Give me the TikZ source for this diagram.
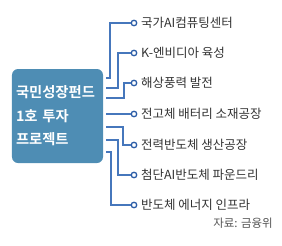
\documentclass[tikz,border=0pt]{standalone}
\usepackage{fontspec}
\setmainfont{Noto Sans CJK KR}[BoldFont={Noto Sans CJK KR Bold}]
\usepackage{tikz}
\usetikzlibrary{positioning,calc}
\definecolor{fundBlue}{HTML}{4E8DB4}
\definecolor{lineBlue}{HTML}{4677BC}
\definecolor{dotBlue}{HTML}{2B5CA6}
\definecolor{labelGray}{HTML}{333333}
\definecolor{srcGray}{HTML}{555555}

\begin{document}
\begin{tikzpicture}[x=1bp,y=-1bp,
  fundbox/.style={fill=fundBlue,rounded corners=6bp,minimum width=91bp,minimum height=94bp,
    inner sep=4bp,text=white,font=\fontsize{14.3bp}{23.5bp}\selectfont\bfseries,align=left,text width=83bp},
  link/.style={draw=lineBlue,line width=2.5bp},
  dot/.style={circle,draw=dotBlue,fill=white,line width=1.3bp,inner sep=0pt,minimum size=5.5bp},
  lab/.style={anchor=west,text=labelGray,font=\fontsize{12.5bp}{14bp}\selectfont,inner sep=0pt}]
\useasboundingbox (0,0) rectangle (282,246);
% fund box on the left
\node[fundbox] (fund) at (57.5,116) {국민성장펀드\\1호 투자\\프로젝트};
% project list with end dots
\foreach \i/\y/\txt in {1/23/국가AI컴퓨팅센터, 2/53/K-엔비디아 육성, 3/83/해상풍력 발전,
  4/114/전고체 배터리 소재공장, 5/145/전력반도체 생산공장, 6/175/첨단AI반도체 파운드리,
  7/205/반도체 에너지 인프라}{
  \node[dot] (p\i) at (134,\y) {};
  \node[lab,right=3.5bp of p\i] (t\i) {\txt};
}
% connector start points next to the box
\coordinate (s1) at (106,78);
\coordinate (s2) at (106,88);
\coordinate (s3) at (106,98);
\coordinate (s4) at (106,114);
\coordinate (s5) at (106,127);
\coordinate (s6) at (106,140);
\coordinate (s7) at (106,152);
\draw[link] (s1) -| ([xshift=-24bp]p1.center) -- (p1);
\draw[link] (s2) -| ([xshift=-16bp]p2.center) -- (p2);
\draw[link] (s3) -| ([xshift=-10bp]p3.center) -- (p3);
\draw[link] (s4) -- (p4);
\draw[link] (s5) -| ([xshift=-11bp]p5.center) -- (p5);
\draw[link] (s6) -| ([xshift=-16bp]p6.center) -- (p6);
\draw[link] (s7) -| ([xshift=-23bp]p7.center) -- (p7);
% source
\node[anchor=east,text=srcGray,font=\fontsize{11.5bp}{13bp}\selectfont,inner sep=0pt] (src) at (273,223) {자료: 금융위};
\end{tikzpicture}
\end{document}
